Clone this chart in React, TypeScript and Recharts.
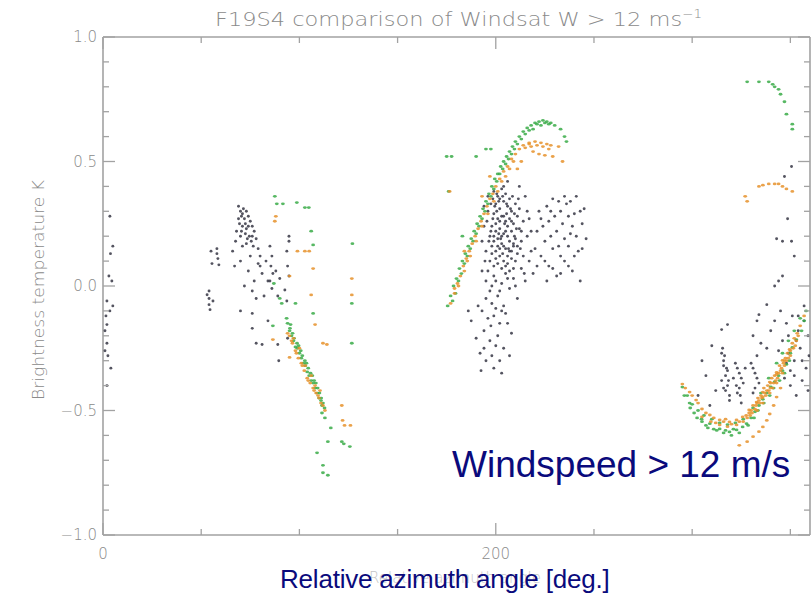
import React from 'react';
import { ScatterChart, Scatter, XAxis, YAxis } from 'recharts';

// axis ticks (IDL style: long ticks where labelled, short ones between)
const xTicks = [0, 50, 100, 150, 200, 250, 300, 350];
const xLabelled = [0, 200];
const yTicks = [-1.0, -0.9, -0.8, -0.7, -0.6, -0.5, -0.4, -0.3, -0.2, -0.1, 0.0, 0.1, 0.2, 0.3, 0.4, 0.5, 0.6, 0.7, 0.8, 0.9, 1.0];
const yLabelled = [-1.0, -0.5, 0.0, 0.5, 1.0];

// [relative azimuth deg, brightness temperature K]
const grayPoints: [number, number][] = [
  // near 0 deg
  [3.5, 0.28], [5, 0.16], [3.8, 0.13], [3, 0.04], [4.5, 0.02], [2, -0.06], [5, -0.08], [3.5, -0.1],
  [1.5, -0.12], [2, -0.155], [1, -0.18], [2, -0.23], [1, -0.26], [2.5, -0.28], [4, -0.33], [2, -0.4],
  // ~55 deg
  [53, -0.035], [55, 0.14], [58, 0.15], [58.5, 0.11], [59, 0.085], [55.5, 0.09], [58, 0.13], [54, -0.02],
  [54, -0.05], [54, -0.075], [54.5, -0.095], [56, -0.06],
  // 66-95 deg
  [69, 0.32], [70, 0.3], [71.5, 0.31], [73, 0.3], [70.5, 0.28], [72, 0.27], [74, 0.28], [75, 0.26],
  [69.5, 0.25], [71, 0.24], [73, 0.23], [76, 0.24], [77, 0.22], [72.5, 0.21], [74.5, 0.2], [70, 0.2],
  [78, 0.19], [75.5, 0.18], [73, 0.17], [71, 0.16], [76.5, 0.16], [79, 0.15], [68, 0.22], [67.5, 0.18],
  [80, 0.12], [66, 0.14], [67, 0.08], [70, 0.1], [74, 0.06], [77, 0.02], [79, 0.09], [81, 0.05],
  [83, 0.1], [84, 0.02], [82, -0.04], [80, 0.08], [75, 0.12], [72, 0.0], [76, -0.02], [78, -0.05],
  [85, 0.16], [86, 0.12], [85.5, 0.08], [86.5, 0.05], [85, 0.02], [86, -0.01], [88, 0.06], [90, 0.03],
  [94.7, 0.2], [94.7, 0.18], [93.6, 0.14], [94, 0.08], [94.7, 0.04], [92.6, -0.016], [93.6, -0.06], [89, -0.04],
  [76, -0.11], [76, -0.17], [78, -0.23], [81, -0.235], [89, -0.235], [89.5, -0.3], [94, -0.21], [84, -0.14],
  [70, -0.1], [71, 0.29], [72.5, 0.25], [74, 0.24], [70.5, 0.22], [73.5, 0.19], [76, 0.2], [69, 0.27],
  // 185-246 deg main cloud
  [199, 0.38], [201, 0.36], [203, 0.39], [205, 0.37], [207, 0.35], [200, 0.33], [202, 0.31], [204, 0.34],
  [206, 0.32], [208, 0.3], [210, 0.33], [199, 0.29], [201, 0.27], [203, 0.28], [205, 0.26], [207, 0.27],
  [209, 0.25], [211, 0.28], [198, 0.24], [200, 0.22], [202, 0.23], [204, 0.21], [206, 0.2], [208, 0.22],
  [210, 0.19], [212, 0.23], [199, 0.18], [201, 0.16], [203, 0.17], [205, 0.15], [207, 0.14], [209, 0.16],
  [211, 0.13], [198, 0.13], [200, 0.11], [202, 0.12], [204, 0.1], [206, 0.09], [208, 0.11], [196, 0.3],
  [197, 0.2], [195, 0.14], [213, 0.18], [214, 0.26], [212, 0.31], [200.5, 0.3], [204.5, 0.25], [202.5, 0.19],
  [206.5, 0.15], [198.5, 0.35], [209.5, 0.2], [203.5, 0.13], [201.5, 0.21], [205.5, 0.29],
  [199.5, 0.32], [201.5, 0.34], [203.5, 0.36], [205.5, 0.33], [207.5, 0.31], [209.5, 0.29], [198.5, 0.27], [200, 0.25],
  [202, 0.26], [204, 0.28], [206, 0.24], [208, 0.26], [210.5, 0.23], [197.5, 0.22], [199, 0.2], [201, 0.19],
  [203, 0.2], [205, 0.22], [207, 0.18], [209, 0.17], [211, 0.16], [198, 0.16], [200, 0.14], [202, 0.15],
  [204, 0.16], [206, 0.12], [208, 0.14], [210, 0.1], [197, 0.1], [199, 0.08], [201, 0.09], [203, 0.07],
  [205, 0.08], [207, 0.06], [209, 0.07], [196, 0.06], [200.5, 0.37], [204, 0.4], [202, 0.35], [208.5, 0.36],
  [195.5, 0.26], [196.5, 0.18], [194.5, 0.1], [212.5, 0.15], [213, 0.22], [211.5, 0.35], [197.5, 0.33], [194, 0.32],
  [193, 0.06], [195, 0.02], [197, -0.02], [199, 0.04], [201, -0.04], [203, 0.01], [205, 0.05], [207, -0.01],
  [209, 0.03], [211, -0.05], [213, 0.07], [215, 0.02], [217, 0.1], [219, 0.05], [194, 0.24], [193, 0.18],
  [216, 0.3], [218, 0.22], [220, 0.15], [215, 0.36], [212, 0.4], [206, 0.42], [196, 0.36], [198, -0.07],
  [204, -0.08], [200, -0.09], [198, 0.0], [200, 0.02], [202, -0.02], [206, 0.03], [210, 0.0], [214, 0.12],
  [216, 0.2], [214.5, 0.05], [218, 0.14], [217, 0.27],
  [222, 0.3], [224, 0.24], [226, 0.32], [228, 0.2], [230, 0.28], [232, 0.16], [234, 0.25], [236, 0.33],
  [238, 0.21], [240, 0.29], [242, 0.14], [244, 0.25], [246, 0.19], [223, 0.12], [227, 0.08], [231, 0.04],
  [235, 0.1], [239, 0.06], [243, 0.02], [225, 0.18], [229, 0.35], [233, 0.12], [237, 0.28], [241, 0.36],
  [245, 0.31], [226, 0.02], [221, 0.22], [223, 0.27], [227, 0.26], [229, 0.15], [231, 0.22], [233, 0.3],
  [235, 0.19], [237, 0.16], [239, 0.24], [241, 0.2], [243, 0.3], [225, 0.1], [229, 0.07], [233, 0.05],
  [221, 0.08], [237, 0.08], [240, 0.12], [244, 0.15], [228, 0.3], [232, 0.34], [235, 0.36], [238, 0.34],
  [193, -0.1], [196, -0.13], [199, -0.12], [202, -0.15], [205, -0.11], [194, -0.18], [197, -0.22], [201, -0.2],
  [204, -0.25], [192, -0.27], [195, -0.3], [199, -0.33], [203, -0.35], [207, -0.28], [186, -0.1], [187.5, -0.14],
  [190, -0.21], [192.5, -0.34], [208, -0.19], [195, -0.05], [197.5, -0.16], [200, -0.24], [203, -0.1], [206, -0.15],
  [191, -0.08], [194, -0.25], [198, -0.28], [202, -0.3],
  // 300-360 deg
  [350.6, 0.48], [347, 0.44], [348.6, 0.27], [343, 0.19], [346, 0.18], [350.6, 0.18], [352, 0.12], [346, 0.04],
  [342, 0.0], [344, 0.02], [338, -0.075], [334, -0.115], [333, -0.14], [318, -0.155],
  [315, -0.27], [316, -0.32], [317, -0.36], [318, -0.4], [319, -0.44], [316, -0.3], [318, -0.34], [315, -0.38],
  [317, -0.42], [319, -0.46], [322, -0.31], [324, -0.35], [326, -0.39], [323, -0.43], [325, -0.47], [327, -0.33],
  [321, -0.37], [324, -0.41], [330, -0.31], [332, -0.35], [334, -0.39], [331, -0.43], [333, -0.28], [335, -0.23],
  [331, -0.2], [315, -0.175], [315.5, -0.25], [316.5, -0.28], [317.5, -0.33], [318.5, -0.38], [316, -0.41], [323, -0.33],
  [325, -0.37], [322.5, -0.4], [324.5, -0.44], [331, -0.33], [333, -0.37], [332, -0.41],
  [345, -0.1], [348, -0.15], [351, -0.12], [354, -0.18], [357, -0.14], [359, -0.2], [346, -0.22], [349, -0.27],
  [352, -0.3], [355, -0.25], [358, -0.33], [359.5, -0.28], [347, -0.37], [350, -0.4], [353, -0.44], [356, -0.38],
  [359, -0.42], [348, -0.31], [344, -0.26], [352, -0.36], [305, -0.3], [307, -0.36], [310, -0.24], [312, -0.42],
  [303, -0.44], [309, -0.48], [340, -0.18], [338, -0.25], [342, -0.14], [353, -0.22], [356, -0.3], [350, -0.34],
  [357, -0.08], [354, -0.12], [349, -0.2],
];

const greenPoints: [number, number][] = [
  // left descending band
  [94, -0.15], [95.2, -0.17], [96.5, -0.19], [97.3, -0.21], [98.8, -0.23], [99.6, -0.24], [100.7, -0.26], [101.5, -0.28],
  [102.8, -0.3], [103.6, -0.31], [104.5, -0.33], [105.7, -0.35], [106.6, -0.36], [107.5, -0.38], [108.4, -0.39], [109.3, -0.41],
  [110.2, -0.43], [111.1, -0.45], [112, -0.47], [112.8, -0.49], [96, -0.2], [98, -0.245], [100, -0.27], [102, -0.31],
  [104, -0.345], [106, -0.38], [108, -0.41], [110, -0.45], [111.5, -0.48], [93.5, -0.13], [95.5, -0.155],
  [95, -0.18], [97, -0.22], [99, -0.25], [101, -0.29], [103, -0.32], [105, -0.36], [107, -0.39], [109, -0.43], [111, -0.46],
  [87.5, 0.36], [88.5, 0.33], [91.6, 0.33], [98.7, 0.335], [102.8, 0.315], [104.8, 0.315], [106, 0.22], [107, 0.165],
  [127, 0.17], [126.7, -0.07], [126.7, -0.23], [107, -0.11], [87, 0.01], [98, -0.07], [91, -0.07], [90, -0.05],
  [86.5, -0.16], [109, -0.67], [112, -0.72], [112, -0.75], [114.5, -0.76], [114.5, -0.625], [121.6, -0.625], [122.6, -0.634],
  [125.7, -0.645], [111.5, -0.51], [113, -0.53], [116, -0.57],
  // middle rising band
  [175.5, -0.08], [177, -0.04], [178.5, 0.0], [180, 0.03], [181.5, 0.07], [183, 0.1], [184.5, 0.13], [186, 0.16],
  [187.5, 0.19], [189, 0.22], [190.5, 0.25], [192, 0.28], [193.5, 0.31], [195, 0.34], [196.5, 0.37], [198, 0.4],
  [199.5, 0.43], [201, 0.45], [202.5, 0.48], [204, 0.5], [205.5, 0.52], [207, 0.54], [208.5, 0.56], [210, 0.58],
  [212, 0.6], [214, 0.62], [216, 0.635], [218, 0.645], [220, 0.655], [222, 0.66], [224, 0.665], [226, 0.66], [228, 0.655],
  [178, -0.06], [181, 0.02], [184, 0.09], [187, 0.15], [190, 0.21], [193, 0.27], [196, 0.33], [199, 0.39],
  [202, 0.45], [205, 0.49], [208, 0.53], [211, 0.57], [215, 0.61], [219, 0.63], [223, 0.645], [227, 0.65], [230, 0.645],
  [179.5, -0.03], [182.5, 0.05], [185.5, 0.12], [188.5, 0.18], [191.5, 0.24], [194.5, 0.3], [197.5, 0.36], [200.5, 0.42],
  [203.5, 0.47], [206.5, 0.51], [209.5, 0.55], [213, 0.59], [217, 0.625], [221, 0.65], [225, 0.655],
  [175, 0.52], [177.5, 0.52], [190, 0.52], [195, 0.55], [197.5, 0.55], [176, 0.38], [183, 0.2], [233, 0.63],
  [235, 0.6], [236, 0.58],
  // right top arc
  [328, 0.82], [334, 0.82], [339, 0.82], [341, 0.81], [342, 0.8], [344, 0.79], [345, 0.77], [347, 0.74],
  [348, 0.69], [351, 0.65], [351, 0.63],
  // right U
  [296, -0.44], [298.7, -0.47], [301, -0.51], [304.8, -0.535], [309, -0.553], [314, -0.574], [319, -0.586], [322.6, -0.578],
  [325.7, -0.566], [327.7, -0.553], [295, -0.406], [297.5, -0.44], [300, -0.475], [303, -0.5], [306, -0.52], [310, -0.535],
  [314, -0.55], [318, -0.557], [322, -0.55], [326, -0.535], [299, -0.49], [302.5, -0.53], [307, -0.56], [311, -0.575],
  [316, -0.59], [320, -0.6], [324, -0.59], [330, -0.53], [332, -0.505], [334, -0.48], [336, -0.455], [338, -0.43],
  [340, -0.405], [342, -0.385], [344, -0.36], [346, -0.34], [348, -0.315], [350, -0.27], [351, -0.247], [353, -0.215],
  [355.7, -0.18], [357, -0.14], [358, -0.1], [331, -0.49], [335, -0.43], [339, -0.37], [343, -0.31], [346, -0.27],
  [349, -0.22], [352, -0.18], [355, -0.13], [328.5, -0.56], [331.5, -0.53], [333.5, -0.5], [336.5, -0.47], [339.5, -0.44],
  [341.5, -0.41], [344.5, -0.38], [347, -0.35], [349.5, -0.3], [305, -0.545], [312.5, -0.58], [317, -0.58], [321, -0.575],
  [308, -0.57],
];

const orangePoints: [number, number][] = [
  // left descending band
  [95, -0.2], [96.5, -0.23], [98, -0.26], [99.5, -0.29], [101, -0.31], [102.5, -0.34], [104, -0.37], [105.5, -0.39],
  [107, -0.41], [108.5, -0.43], [110, -0.45], [111, -0.47], [103, -0.32], [106, -0.36], [100, -0.25], [97, -0.21],
  [108, -0.4], [110.5, -0.42], [94, -0.19], [95, -0.287], [96, -0.22], [98.5, -0.27], [101.5, -0.32], [104.5, -0.38],
  [107.5, -0.42], [109.5, -0.44], [112, -0.48], [113, -0.5],
  [121.6, -0.48], [122, -0.54], [123, -0.56], [126, -0.56],
  [126.7, 0.03], [126.7, -0.036], [107, 0.07], [105, 0.14], [99, 0.14], [102.8, 0.14], [108, -0.155], [112, -0.23],
  [114, -0.235], [88, 0.28], [87.5, 0.26], [95, 0.04], [106, -0.036], [86.5, -0.215],
  // middle rising band
  [177, -0.07], [179, -0.03], [180.5, 0.01], [182, 0.04], [183.5, 0.08], [185, 0.11], [186.5, 0.14], [188, 0.17],
  [189.5, 0.2], [191, 0.23], [192.5, 0.26], [194, 0.29], [195.5, 0.32], [197, 0.35], [198.5, 0.37], [200, 0.4],
  [202, 0.43], [204, 0.46], [206, 0.48], [208, 0.51], [210, 0.53], [212, 0.55], [214, 0.565], [217, 0.575],
  [220, 0.58], [223, 0.575], [226, 0.57], [228, 0.565], [217, 0.57], [222, 0.53], [225, 0.525], [229, 0.52],
  [232, 0.56], [234, 0.5], [219, 0.54], [227, 0.55], [213, 0.5], [211, 0.47], [176.5, 0.38], [184, 0.14],
  [185.5, 0.1], [179, -0.01], [197, 0.44], [193, 0.36],
  [181, 0.0], [184, 0.06], [187, 0.12], [190, 0.18], [193, 0.24], [196, 0.29], [199, 0.34], [201, 0.38],
  [203, 0.42], [205, 0.44], [207, 0.47], [209, 0.5], [215, 0.555], [221, 0.565], [224, 0.56], [218, 0.56],
  // right top arc
  [327, 0.36], [328, 0.34], [334, 0.4], [336, 0.405], [339, 0.41], [342, 0.41], [344, 0.41], [346, 0.4],
  [348, 0.39], [351, 0.38],
  // right U
  [295, -0.394], [298.7, -0.426], [302, -0.458], [305, -0.494], [309, -0.518], [314, -0.538], [319, -0.546], [322.6, -0.538],
  [325.7, -0.526], [329, -0.498], [332.8, -0.466], [336, -0.426], [339.5, -0.386], [343, -0.347], [346, -0.299], [349.6, -0.255],
  [305, -0.526], [309.5, -0.545], [314, -0.558], [318, -0.565], [322.6, -0.558], [326, -0.545],
  [327.5, -0.52], [330, -0.5], [331, -0.48], [332, -0.495], [333.5, -0.45], [334.5, -0.47], [335, -0.44], [336.5, -0.41],
  [337.5, -0.44], [338.5, -0.4], [339, -0.42], [340.5, -0.37], [341.5, -0.39], [342, -0.36], [343.5, -0.37], [344.5, -0.32],
  [345, -0.34], [346.5, -0.31], [347.5, -0.29], [348.5, -0.27], [350, -0.26], [351, -0.23], [352, -0.21], [353.5, -0.19],
  [355, -0.16], [357, -0.12], [333, -0.47], [329, -0.51], [336, -0.445], [339.8, -0.41], [343, -0.355], [347, -0.3],
  [328, -0.53], [329.5, -0.52], [330.5, -0.51], [332.5, -0.48], [333, -0.5], [334, -0.46], [335.5, -0.45], [336, -0.47],
  [337, -0.43], [338, -0.42], [339.5, -0.43], [340, -0.39], [341, -0.41], [342.5, -0.38], [343, -0.39], [344, -0.35],
  [345.5, -0.33], [346, -0.35], [347, -0.32], [348, -0.3], [349, -0.29], [350, -0.28], [351.5, -0.25], [352.5, -0.24],
  [353, -0.22], [354, -0.2], [312, -0.55], [320, -0.555], [317, -0.535], [324, -0.545], [307, -0.51],
  [324, -0.64], [328, -0.625], [331, -0.605], [334, -0.585], [336, -0.566], [338, -0.54], [339.5, -0.514], [341.5, -0.48],
  [343, -0.446], [345, -0.41], [296.5, -0.41], [300, -0.44], [303, -0.47], [311, -0.53], [316, -0.545],
];

const toRows = (pts: [number, number][]) => pts.map(([x, y]) => ({ x, y }));
const grayData = toRows(grayPoints);
const greenData = toRows(greenPoints);
const orangeData = toRows(orangePoints);

const AXIS = '#a2a2a2';
const LABEL = '#8a8a8a';
const NAVY = '#0a0a7c';
const THIN = "'DejaVu Sans', sans-serif";

const fmt = (v: number) => (v < 0 ? '\u2212' : '') + Math.abs(v).toFixed(1);
const isMajorY = (v: number) => yLabelled.some((t) => Math.abs(t - v) < 1e-6);

const LeftTick = (p: any) => {
  const v = p.payload.value;
  const major = isMajorY(v);
  return (
    <g>
      <line x1={p.x} x2={p.x + (major ? 12 : 6)} y1={p.y} y2={p.y} stroke={AXIS} strokeWidth={1.3} />
      {major && (
        <text x={p.x - 6} y={p.y + 5} textAnchor="end" fontSize={15} fill={LABEL} stroke="none"
          fontFamily={THIN} fontWeight={200}>
          {fmt(v)}
        </text>
      )}
    </g>
  );
};

const RightTick = (p: any) => {
  const major = isMajorY(p.payload.value);
  return <line x1={p.x} x2={p.x - (major ? 12 : 6)} y1={p.y} y2={p.y} stroke={AXIS} strokeWidth={1.3} />;
};

const BottomTick = (p: any) => {
  const v = p.payload.value;
  const major = xLabelled.includes(v);
  return (
    <g>
      <line x1={p.x} x2={p.x} y1={p.y} y2={p.y - (major ? 12 : 6)} stroke={AXIS} strokeWidth={1.3} />
      {major && (
        <text x={p.x} y={p.y + 24} textAnchor="middle" fontSize={15} fill={LABEL} stroke="none"
          fontFamily={THIN} fontWeight={200}>
          {v}
        </text>
      )}
    </g>
  );
};

const TopTick = (p: any) => {
  const major = xLabelled.includes(p.payload.value);
  return <line x1={p.x} x2={p.x} y1={p.y} y2={p.y + (major ? 12 : 6)} stroke={AXIS} strokeWidth={1.3} />;
};

const grayDot = (p: any) => <circle cx={p.cx} cy={p.cy} r={1.45} fill="#363644" fillOpacity={0.85} />;
const greenDot = (p: any) => <ellipse cx={p.cx} cy={p.cy} rx={1.9} ry={1.4} fill="#3aab48" fillOpacity={0.85} />;
const orangeDot = (p: any) => <ellipse cx={p.cx} cy={p.cy} rx={1.9} ry={1.4} fill="#e6922c" fillOpacity={0.85} />;
const noDot = () => <g />;

export default function App() {
  const axisLine = { stroke: AXIS, strokeWidth: 1.6 };
  return (
    <div style={{ position: 'absolute', left: 0, top: 0, width: 812, height: 595, background: '#fff', overflow: 'hidden' }}>
      <ScatterChart width={812} height={595} margin={{ top: 36, right: 1, bottom: 59, left: 102 }}>
        <XAxis xAxisId="bx" type="number" dataKey="x" domain={[0, 360]} ticks={xTicks} interval={0} allowDataOverflow
          height={1} tickSize={0} tickMargin={0} tickLine={false} axisLine={axisLine} tick={BottomTick} />
        <XAxis xAxisId="tx" orientation="top" type="number" dataKey="x" domain={[0, 360]} ticks={xTicks} interval={0}
          allowDataOverflow height={1} tickSize={0} tickMargin={0} tickLine={false} axisLine={axisLine} tick={TopTick} />
        <YAxis yAxisId="ly" type="number" dataKey="y" domain={[-1, 1]} ticks={yTicks} interval={0} allowDataOverflow
          width={1} tickSize={0} tickMargin={0} tickLine={false} axisLine={axisLine} tick={LeftTick} />
        <YAxis yAxisId="ry" orientation="right" type="number" dataKey="y" domain={[-1, 1]} ticks={yTicks} interval={0}
          allowDataOverflow width={1} tickSize={0} tickMargin={0} tickLine={false} axisLine={axisLine} tick={RightTick} />
        <Scatter xAxisId="tx" yAxisId="ry" data={grayData} shape={noDot} isAnimationActive={false} legendType="none" />
        <Scatter xAxisId="bx" yAxisId="ly" data={grayData} shape={grayDot} isAnimationActive={false} />
        <Scatter xAxisId="bx" yAxisId="ly" data={greenData} shape={greenDot} isAnimationActive={false} />
        <Scatter xAxisId="bx" yAxisId="ly" data={orangeData} shape={orangeDot} isAnimationActive={false} />
      </ScatterChart>
      <svg width={812} height={595} style={{ position: 'absolute', left: 0, top: 0, pointerEvents: 'none' }}>
        <text x={215} y={26} fontSize={20} fill={LABEL} fontFamily={THIN} fontWeight={200} textLength={487} lengthAdjust="spacingAndGlyphs">
          F19S4 comparison of Windsat W &gt; 12 ms<tspan dy={-8} fontSize={12}>{'\u22121'}</tspan>
        </text>
        <text x={44} y={290} transform="rotate(-90 44 290)" textAnchor="middle" fontSize={16} fill={LABEL}
          fontFamily={THIN} fontWeight={200} textLength={220} lengthAdjust="spacingAndGlyphs">
          Brightness temperature K
        </text>
        <text x={455} y={583} textAnchor="middle" fontSize={15} fill="#c4c4c4" fontFamily={THIN} fontWeight={200}>
          Relative azimuth angle
        </text>
        <text x={452} y={477} fontSize={37} fill={NAVY} fontFamily="'Liberation Sans', Arial, sans-serif">
          Windspeed &gt; 12 m/s
        </text>
        <text x={280} y={588} fontSize={26} fill={NAVY} fontFamily="'Liberation Sans', Arial, sans-serif" letterSpacing={-0.2}>
          Relative azimuth angle [deg.]
        </text>
      </svg>
    </div>
  );
}
